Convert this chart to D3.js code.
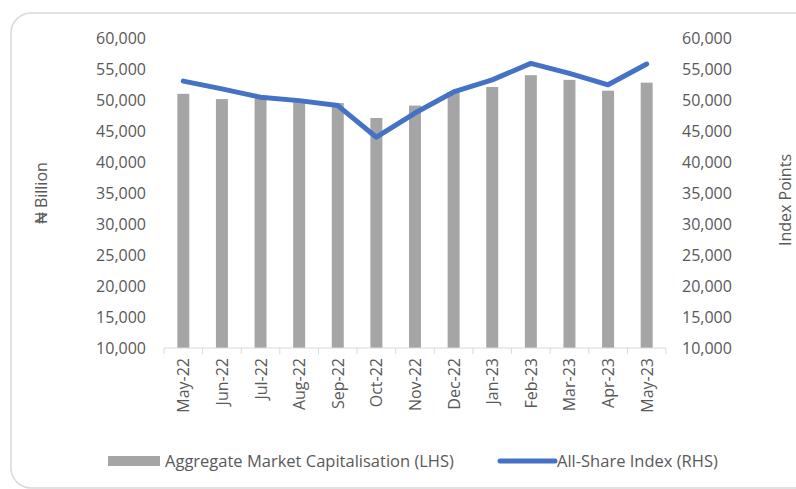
<!DOCTYPE html>
<html>
<head>
<meta charset="utf-8">
<script src="https://cdn.jsdelivr.net/npm/d3@7"></script>
<style>
  body { margin: 0; background: #fff; }
  svg { display: block; font-family: "Open Sans", sans-serif; }
</style>
</head>
<body>
<div id="chart"></div>
<script>
const months = ['May-22', 'Jun-22', 'Jul-22', 'Aug-22', 'Sep-22', 'Oct-22', 'Nov-22',
  'Dec-22', 'Jan-23', 'Feb-23', 'Mar-23', 'Apr-23', 'May-23']
const marketCap = [51000, 50150, 50300, 49800, 49500, 47100, 49100,
  51300, 52100, 54000, 53250, 51500, 52800]
const asi = [53050, 51800, 50450, 49900, 49100, 44000, 47900,
  51300, 53250, 55900, 54300, 52450, 55800]
const yTicks = [10000, 15000, 20000, 25000, 30000, 35000, 40000, 45000, 50000, 55000, 60000]

const W = 796, H = 489
const plotLeft = 164, plotRight = 666, plotTop = 38, plotBottom = 348
const fontSize = '16px'

const svg = d3.select('#chart').append('svg')
  .attr('width', W)
  .attr('height', H)

// outer frame
svg.append('rect')
  .attr('x', 11).attr('y', 13)
  .attr('width', 810).attr('height', 475)
  .attr('rx', 20)
  .attr('fill', 'none')
  .attr('stroke', '#d9d9d9')
  .attr('stroke-width', 1.5)

const x = d3.scaleBand()
  .domain(months)
  .range([plotLeft, plotRight])
  .paddingInner(0.69)
  .paddingOuter(0.345)

const yL = d3.scaleLinear().domain([10000, 60000]).range([plotBottom, plotTop])
const yR = d3.scaleLinear().domain([10000, 60000]).range([plotBottom, plotTop])

const fmt = d3.format(',')

const axL = svg.append('g')
  .attr('transform', `translate(${plotLeft},0)`)
  .call(d3.axisLeft(yL).tickValues(yTicks).tickFormat(fmt).tickSize(0).tickPadding(18))
axL.select('.domain').remove()

const axR = svg.append('g')
  .attr('transform', `translate(${plotRight},0)`)
  .call(d3.axisRight(yR).tickValues(yTicks).tickFormat(fmt).tickSize(0).tickPadding(16))
axR.select('.domain').remove()

svg.selectAll('.tick text')
  .attr('fill', '#595959')
  .style('font-size', fontSize)
  .style('font-family', '"Open Sans", sans-serif')

// bars
svg.selectAll('rect.bar')
  .data(marketCap)
  .enter()
  .append('rect')
  .attr('class', 'bar')
  .attr('x', (d, i) => x(months[i]))
  .attr('y', d => yL(d))
  .attr('width', x.bandwidth())
  .attr('height', d => plotBottom - yL(d))
  .attr('fill', '#a5a5a5')

// x axis
const step = x.step()
const axB = svg.append('g')
  .attr('transform', `translate(0,${plotBottom})`)
axB.append('line')
  .attr('x1', plotLeft).attr('x2', plotRight)
  .attr('stroke', '#d9d9d9').attr('stroke-width', 1)
d3.range(months.length + 1).forEach(i => {
  axB.append('line')
    .attr('x1', plotLeft + i * step).attr('x2', plotLeft + i * step)
    .attr('y1', 0).attr('y2', 6)
    .attr('stroke', '#d9d9d9')
})
axB.selectAll('text.mlab')
  .data(months)
  .enter()
  .append('text')
  .attr('class', 'mlab')
  .attr('transform', d => `translate(${x(d) + x.bandwidth() / 2 + 6},10) rotate(-90)`)
  .attr('text-anchor', 'end')
  .attr('fill', '#595959')
  .style('font-size', fontSize)
  .text(d => d)

// line
const line = d3.line()
  .x((d, i) => x(months[i]) + x.bandwidth() / 2)
  .y(d => yR(d))

svg.append('path')
  .datum(asi)
  .attr('fill', 'none')
  .attr('stroke', '#4472c4')
  .attr('stroke-width', 5)
  .attr('stroke-linejoin', 'round')
  .attr('stroke-linecap', 'round')
  .attr('d', line)

// axis titles
svg.append('text')
  .attr('transform', 'translate(47,193) rotate(-90)')
  .attr('text-anchor', 'middle')
  .attr('fill', '#595959')
  .style('font-size', fontSize)
  .text('₦ Billion')

svg.append('text')
  .attr('transform', 'translate(791,200) rotate(-90)')
  .attr('text-anchor', 'middle')
  .attr('fill', '#595959')
  .style('font-size', fontSize)
  .text('Index Points')

// legend
const lg = svg.append('g')
lg.append('rect')
  .attr('x', 108).attr('y', 456).attr('width', 52).attr('height', 10)
  .attr('fill', '#a5a5a5')
lg.append('text')
  .attr('x', 165).attr('y', 467)
  .attr('fill', '#595959')
  .style('font-size', '16.5px')
  .text('Aggregate Market Capitalisation (LHS)')
lg.append('line')
  .attr('x1', 500).attr('x2', 555).attr('y1', 461).attr('y2', 461)
  .attr('stroke', '#4472c4').attr('stroke-width', 5).attr('stroke-linecap', 'round')
lg.append('text')
  .attr('x', 557).attr('y', 467)
  .attr('fill', '#595959')
  .style('font-size', '16.5px')
  .text('All-Share Index (RHS)')
</script>
</body>
</html>
